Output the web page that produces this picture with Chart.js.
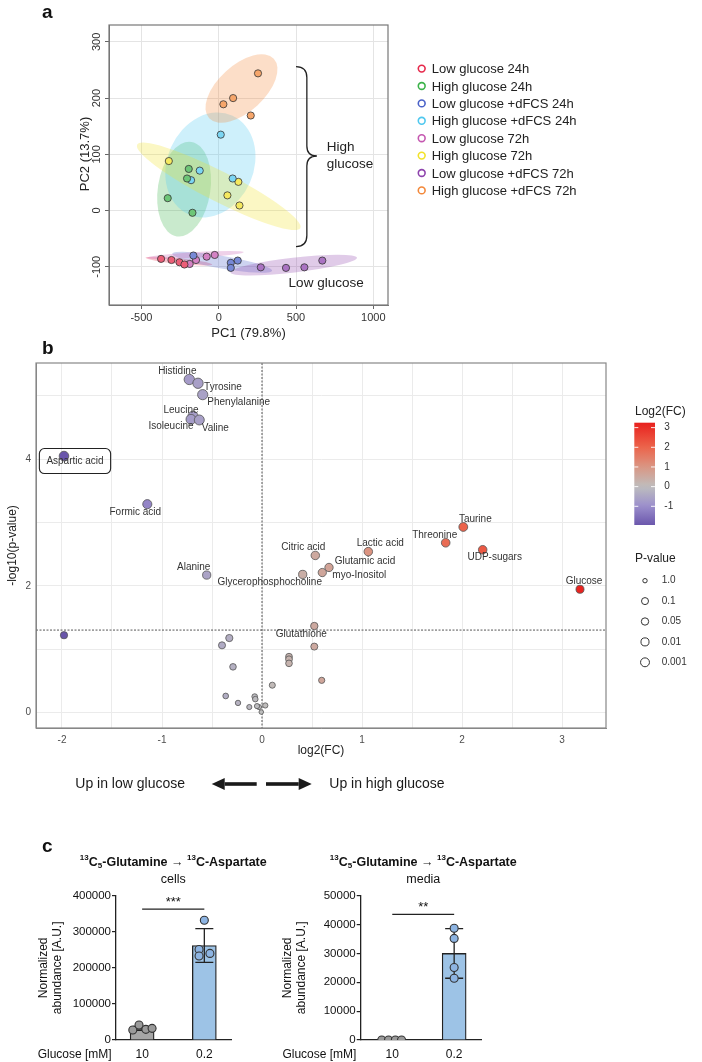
<!DOCTYPE html>
<html>
<head>
<meta charset="utf-8">
<script src="https://cdn.jsdelivr.net/npm/chart.js@4.4.1/dist/chart.umd.min.js"></script>
<style>
  body { margin: 0; background: #fff; }
  #page { position: relative; width: 702px; height: 1062px; overflow: hidden; background: #fff; }
  canvas { position: absolute; }
  .tag { position: absolute; font: bold 19px 'Liberation Sans', Arial, sans-serif; color: #111; }
</style>
</head>
<body>
<div id="page">
  <canvas id="pca" width="702" height="345" style="left:0;top:0"></canvas>
  <canvas id="volcano" width="702" height="460" style="left:0;top:340px"></canvas>
  <canvas id="cells" width="340" height="222" style="left:0;top:840px"></canvas>
  <canvas id="media" width="462" height="222" style="left:240px;top:840px"></canvas>
  <div class="tag" style="left:42px;top:1px">a</div>
  <div class="tag" style="left:42px;top:337px">b</div>
  <div class="tag" style="left:42px;top:835px">c</div>
</div>
<script>
// ---------- panel a : PCA ----------
const pcaGroups = ['Low glucose 24h', 'High glucose 24h', 'Low glucose +dFCS 24h', 'High glucose +dFCS 24h',
                   'Low glucose 72h', 'High glucose 72h', 'Low glucose +dFCS 72h', 'High glucose +dFCS 72h'];
const pc1 = [
  [-373, -306, -254, -222],
  [-194, -205, -330, -170],
  [-164, 78, 78, 123],
  [13, -123, -179, 90],
  [-188, -147, -78, -26],
  [-323, 127, 56, 134],
  [272, 435, 554, 670],
  [254, 93, 30, 207]
];
const pc2 = [
  [-86, -88, -92, -96],
  [74, 57, 22, -4],
  [-80, -93, -102, -89],
  [135, 71, 54, 57],
  [-95, -88, -82, -79],
  [88, 51, 27, 9],
  [-101, -102, -101, -89],
  [244, 200, 189, 169]
];
const pcaXTicks = [-500, 0, 500, 1000];
const pcaYTicks = [-100, 0, 100, 200, 300];
// confidence ellipses: centre, first and second semi-axis vectors (data units)
const ellCentre = [[-258, -90], [-224, 38], [22, -92], [-54, 81], [-151, -79], [0, 43], [485, -97], [147, 217]];
const ellAxisA  = [[216, -6], [47, 84], [323, -15], [140, 88], [312, 5], [528, -74], [409, 13], [209, 53]];
const ellAxisB  = [[0, 5], [168, -7], [-6, -11], [256, -31], [0, 5], [43, 24], [6, -13], [103, -30]];

// ---------- panel b : volcano ----------
const metabolites = ['Histidine', 'Tyrosine', 'Phenylalanine', 'Leucine', 'Isoleucine', 'Valine', 'Aspartic acid',
  'Formic acid', 'Citric acid', 'Alanine', 'Glycerophosphocholine', 'Glutamic acid', 'myo-Inositol', 'Lactic acid',
  'Threonine', 'Taurine', 'UDP-sugars', 'Glucose', 'Glutathione',
  '', '', '', '', '', '', '', '', '', '', '', '', '', '', '', '', '', '', ''];
const log2fc = [-0.727, -0.64, -0.593, -0.69, -0.71, -0.627, -1.98,
  -1.147, 0.533, -0.553, 0.407, 0.67, 0.603, 1.063,
  1.837, 2.013, 2.207, 3.18, 0.523,
  -1.98, -0.327, -0.40, 0.523, 0.27, 0.27, 0.27, -0.29, 0.597, 0.103, -0.363, -0.073, -0.067, -0.24, -0.127, -0.03, 0.033, -0.007, -0.05];
const negLog10p = [5.26, 5.20, 5.02, 4.68, 4.63, 4.62, 4.05,
  3.29, 2.48, 2.17, 2.18, 2.29, 2.21, 2.54,
  2.68, 2.93, 2.57, 1.945, 1.365,
  1.22, 1.175, 1.06, 1.04, 0.88, 0.84, 0.775, 0.72, 0.507, 0.43, 0.26, 0.25, 0.21, 0.15, 0.085, 0.085, 0.11, 0.006, 0.10];
const pThreshold = 1.301;   // -log10(0.05)
const fcThreshold = 0;
const pLegendValues = ['1.0', '0.1', '0.05', '0.01', '0.001'];
const fcLegendTicks = [3, 2, 1, 0, -1];

// ---------- panel c : bars ----------
const glucoseLevels = ['10', '0.2'];
const cellsMean = [32000, 262000];
const cellsSd = [5500, 47000];
const cellsPoints = [[27700, 41500, 29500, 32300], [251000, 233000, 240000, 332000]];
const mediaMean = [0, 30000];
const mediaSd = [0, 8600];
const mediaPoints = [[0, 0, 0, 0], [38700, 35200, 25100, 21400]];
const cellsSig = {level: 363000, text: '***'};
const mediaSig = {level: 43500, text: '**'};

// ---------- styling ----------
const FONT = "'Liberation Sans', Arial, Helvetica, sans-serif";
Chart.defaults.font.family = FONT;
Chart.defaults.color = '#333';
Chart.defaults.animation = false;
Chart.defaults.plugins.legend.display = false;
Chart.defaults.plugins.tooltip.enabled = false;

const ringColors = ['#E6294B', '#3CB34A', '#4A62C8', '#4FC8EF', '#C558B0', '#F2E22A', '#8E44AD', '#F3883A'];
// positional jitter of replicate dots (x units)
const jitterCells = [[-0.15, -0.05, 0.06, 0.16], [-0.085, -0.085, 0.09, 0]];
const jitterMedia = [[-0.17, -0.06, 0.05, 0.15], [0, 0, 0, 0]];
const labelOffset = {
  'Histidine': [-12, -8], 'Tyrosine': [25, 4], 'Phenylalanine': [36, 8], 'Leucine': [-12, -6],
  'Isoleucine': [-20, 7], 'Valine': [16, 8], 'Aspartic acid': [11, 5], 'Formic acid': [-12, 8],
  'Citric acid': [-12, -8], 'Alanine': [-13, -8], 'Glycerophosphocholine': [-33, 8], 'Glutamic acid': [36, -6],
  'myo-Inositol': [37, 3], 'Lactic acid': [12, -8], 'Threonine': [-11, -8], 'Taurine': [12, -8],
  'UDP-sugars': [12, 8], 'Glucose': [4, -8], 'Glutathione': [-13, 8]
};

function hexRgb(h) { return [parseInt(h.substr(1, 2), 16), parseInt(h.substr(3, 2), 16), parseInt(h.substr(5, 2), 16)]; }
function lighten(h, f) { return 'rgb(' + hexRgb(h).map(c => Math.round(c + (255 - c) * f)).join(',') + ')'; }
function alpha(h, a) { return 'rgba(' + hexRgb(h).join(',') + ',' + a + ')'; }

const fcStops = [[-2, [104, 84, 170]], [-1, [155, 142, 204]], [0, [190, 190, 190]], [1, [218, 150, 132]], [2, [236, 100, 75]], [3.3, [232, 30, 28]]];
function fcColor(v) {
  if (v <= fcStops[0][0]) return 'rgb(' + fcStops[0][1].join(',') + ')';
  for (let i = 1; i < fcStops.length; i++) {
    if (v <= fcStops[i][0]) {
      const [a, ca] = fcStops[i - 1], [b, cb] = fcStops[i];
      const t = (v - a) / (b - a);
      return 'rgb(' + ca.map((c, k) => Math.round(c + (cb[k] - c) * t)).join(',') + ')';
    }
  }
  return 'rgb(' + fcStops[fcStops.length - 1][1].join(',') + ')';
}
function sizeFor(p) { return 2.2 + 1.3 * Math.sqrt(Math.max(p, 0)); }

// ---------- panel a plugins ----------
const ellipsePlugin = {
  id: 'ellipses',
  beforeDatasetsDraw(chart) {
    const {ctx, chartArea: ca, scales: {x, y}} = chart;
    ctx.save();
    ctx.beginPath(); ctx.rect(ca.left, ca.top, ca.width, ca.height); ctx.clip();
    ellCentre.forEach((c, i) => {
      const cx = x.getPixelForValue(c[0]), cy = y.getPixelForValue(c[1]);
      const ax = x.getPixelForValue(c[0] + ellAxisA[i][0]) - cx, ay = y.getPixelForValue(c[1] + ellAxisA[i][1]) - cy;
      const bx = x.getPixelForValue(c[0] + ellAxisB[i][0]) - cx, by = y.getPixelForValue(c[1] + ellAxisB[i][1]) - cy;
      ctx.save();
      ctx.transform(ax, ay, bx, by, cx, cy);
      ctx.beginPath(); ctx.arc(0, 0, 1, 0, Math.PI * 2);
      ctx.restore();
      ctx.fillStyle = alpha(ringColors[i], 0.28);
      ctx.fill();
    });
    ctx.restore();
  }
};

const pcaDecor = {
  id: 'pcaDecor',
  afterDraw(chart) {
    const {ctx, chartArea: ca, scales: {x, y}} = chart;
    ctx.save();
    // frame
    ctx.strokeStyle = '#777'; ctx.lineWidth = 1.2;
    ctx.strokeRect(ca.left, ca.top, ca.width, ca.height);
    // rotated y tick labels and y title
    ctx.font = '11px ' + FONT; ctx.fillStyle = '#333'; ctx.textAlign = 'center'; ctx.textBaseline = 'middle';
    y.ticks.forEach(t => {
      ctx.save();
      ctx.translate(ca.left - 11.7, y.getPixelForValue(t.value));
      ctx.rotate(-Math.PI / 2);
      ctx.fillText(String(t.value), 0, 0);
      ctx.restore();
    });
    ctx.save();
    ctx.font = '13px ' + FONT; ctx.fillStyle = '#222';
    ctx.translate(85, 154);
    ctx.rotate(-Math.PI / 2);
    ctx.fillText('PC2 (13.7%)', 0, 0);
    ctx.restore();
    // curly bracket
    const xe = x.getPixelForValue(500), xs = x.getPixelForValue(570), xt = x.getPixelForValue(635);
    const yt = y.getPixelForValue(256), yb = y.getPixelForValue(-64), ym = y.getPixelForValue(97);
    ctx.strokeStyle = '#222'; ctx.lineWidth = 1.3;
    ctx.beginPath();
    ctx.moveTo(xe, yt);
    ctx.quadraticCurveTo(xs, yt, xs, yt + 11);
    ctx.lineTo(xs, ym - 10);
    ctx.quadraticCurveTo(xs, ym, xt, ym);
    ctx.quadraticCurveTo(xs, ym, xs, ym + 10);
    ctx.lineTo(xs, yb - 11);
    ctx.quadraticCurveTo(xs, yb, xe, yb);
    ctx.stroke();
    // annotations
    ctx.font = '13.5px ' + FONT; ctx.fillStyle = '#222'; ctx.textAlign = 'left';
    ctx.fillText('High', x.getPixelForValue(699), y.getPixelForValue(112));
    ctx.fillText('glucose', x.getPixelForValue(699), y.getPixelForValue(83));
    ctx.fillText('Low glucose', x.getPixelForValue(452), y.getPixelForValue(-129));
    // legend
    ctx.font = '13px ' + FONT;
    pcaGroups.forEach((name, g) => {
      const ly = 69.6 + g * 17.4;
      ctx.beginPath(); ctx.arc(421.7, ly - 1, 3.4, 0, Math.PI * 2);
      ctx.strokeStyle = ringColors[g]; ctx.lineWidth = 1.6; ctx.stroke();
      ctx.fillStyle = '#222'; ctx.fillText(name, 431.7, ly);
    });
    ctx.restore();
  }
};

new Chart(document.getElementById('pca'), {
  type: 'scatter',
  data: {
    datasets: pcaGroups.map((name, g) => ({
      label: name,
      data: pc1[g].map((v, i) => ({x: v, y: pc2[g][i]})),
      pointRadius: 3.6,
      pointBackgroundColor: lighten(ringColors[g], 0.25),
      pointBorderColor: '#333',
      pointBorderWidth: 0.8
    }))
  },
  options: {
    responsive: false,
    layout: {padding: {left: 0, top: 25, right: 314, bottom: 0}},
    scales: {
      x: {
        type: 'linear', min: -710, max: 1095,
        afterBuildTicks: s => { s.ticks = pcaXTicks.map(v => ({value: v})); },
        afterFit: s => { s.height = 40; },
        ticks: {padding: 2, color: '#333', font: {size: 11}, callback: v => String(v)},
        grid: {color: '#e4e4e4', tickColor: '#666', tickLength: 4},
        border: {color: '#777'},
        title: {display: true, text: 'PC1 (79.8%)', color: '#222', font: {size: 13}, padding: {top: 0, bottom: 4}}
      },
      y: {
        type: 'linear', min: -168, max: 330,
        afterBuildTicks: s => { s.ticks = pcaYTicks.map(v => ({value: v})); },
        afterFit: s => { s.width = 109; },
        ticks: {display: false},
        grid: {color: '#e4e4e4', tickColor: '#666', tickLength: 4},
        border: {color: '#777'}
      }
    }
  },
  plugins: [ellipsePlugin, pcaDecor]
});

// ---------- panel b ----------
function drawArrow(ctx, x0, x1, y) {
  const dir = Math.sign(x1 - x0), head = 13;
  ctx.fillRect(Math.min(x0, x1 - dir * head), y - 1.8, Math.abs(x1 - dir * head - x0), 3.6);
  ctx.beginPath();
  ctx.moveTo(x1, y); ctx.lineTo(x1 - dir * head, y - 6); ctx.lineTo(x1 - dir * head, y + 6);
  ctx.closePath(); ctx.fill();
}

const volcanoDecor = {
  id: 'volcanoDecor',
  beforeDatasetsDraw(chart) {
    const {ctx, chartArea: ca, scales: {x, y}} = chart;
    ctx.save();
    ctx.strokeStyle = '#555'; ctx.lineWidth = 1; ctx.setLineDash([2, 1.5]);
    const px = x.getPixelForValue(fcThreshold), py = y.getPixelForValue(pThreshold);
    ctx.beginPath(); ctx.moveTo(px, ca.top); ctx.lineTo(px, ca.bottom); ctx.stroke();
    ctx.beginPath(); ctx.moveTo(ca.left, py); ctx.lineTo(ca.right, py); ctx.stroke();
    ctx.restore();
  },
  afterDraw(chart) {
    const {ctx, chartArea: ca, scales: {x, y}} = chart;
    ctx.save();
    ctx.strokeStyle = '#888'; ctx.lineWidth = 1.2;
    ctx.strokeRect(ca.left, ca.top, ca.width, ca.height);
    // point labels
    ctx.font = '10px ' + FONT; ctx.fillStyle = '#333'; ctx.textAlign = 'center'; ctx.textBaseline = 'middle';
    metabolites.forEach((name, i) => {
      if (!name) return;
      const off = labelOffset[name];
      const tx = x.getPixelForValue(log2fc[i]) + off[0], ty = y.getPixelForValue(negLog10p[i]) + off[1];
      if (name === 'Aspartic acid') {
        const w = ctx.measureText(name).width + 14, h = 25;
        ctx.beginPath(); ctx.roundRect(tx - w / 2, ty - h / 2, w, h, 5);
        ctx.strokeStyle = '#222'; ctx.lineWidth = 1.1; ctx.stroke();
      }
      ctx.fillText(name, tx, ty);
    });
    // colour bar legend
    const barL = 634.3, barR = 655, barT = 82.7, barB = 185;   // canvas coords
    const vTop = 3.25, vBot = -1.95;
    const vy = v => barT + (vTop - v) / (vTop - vBot) * (barB - barT);
    const grad = ctx.createLinearGradient(0, barB, 0, barT);
    for (let k = 0; k <= 20; k++) {
      const v = vBot + (vTop - vBot) * k / 20;
      grad.addColorStop(k / 20, fcColor(v));
    }
    ctx.fillStyle = grad; ctx.fillRect(barL, barT, barR - barL, barB - barT);
    ctx.strokeStyle = 'rgba(255,255,255,0.9)'; ctx.lineWidth = 1;
    ctx.font = '10px ' + FONT; ctx.textAlign = 'left'; ctx.textBaseline = 'middle';
    fcLegendTicks.forEach(v => {
      const ty = vy(v);
      ctx.beginPath(); ctx.moveTo(barL, ty); ctx.lineTo(barL + 4, ty); ctx.moveTo(barR - 4, ty); ctx.lineTo(barR, ty); ctx.stroke();
      ctx.fillStyle = '#333'; ctx.fillText(String(v), 664.3, ty);
    });
    ctx.font = '12px ' + FONT; ctx.fillStyle = '#222';
    ctx.fillText('Log2(FC)', 635, 71.7);
    // p-value legend
    ctx.fillText('P-value', 635, 218.3);
    ctx.font = '10px ' + FONT;
    pLegendValues.forEach((lab, k) => {
      const ly = 240.7 + k * 20.4;
      ctx.beginPath(); ctx.arc(645, ly, sizeFor(-Math.log10(parseFloat(lab))), 0, Math.PI * 2);
      ctx.strokeStyle = '#333'; ctx.lineWidth = 1; ctx.stroke();
      ctx.fillStyle = '#333'; ctx.fillText(lab, 661.7, ly);
    });
    // direction arrows
    ctx.fillStyle = '#1a1a1a';
    ctx.font = '14px ' + FONT; ctx.textAlign = 'right';
    ctx.fillText('Up in low glucose', 185, 444);
    ctx.textAlign = 'left';
    ctx.fillText('Up in high glucose', 329.3, 444);
    drawArrow(ctx, 256.7, 211.7, 444);
    drawArrow(ctx, 266, 311.7, 444);
    ctx.restore();
  }
};

new Chart(document.getElementById('volcano'), {
  type: 'scatter',
  data: {
    datasets: [{
      label: 'metabolites',
      data: log2fc.map((v, i) => ({x: v, y: negLog10p[i]})),
      pointRadius: negLog10p.map(sizeFor),
      pointBackgroundColor: log2fc.map(fcColor),
      pointBorderColor: '#555',
      pointBorderWidth: 0.8
    }]
  },
  options: {
    responsive: false,
    layout: {padding: {left: 0, top: 23, right: 96, bottom: 40}},
    scales: {
      x: {
        type: 'linear', min: -2.26, max: 3.44,
        afterFit: s => { s.height = 32; },
        ticks: {stepSize: 0.5, includeBounds: false, padding: 6, color: '#4d4d4d', font: {size: 10},
                callback: v => Math.abs(v - Math.round(v)) < 1e-6 ? String(Math.round(v)) : ''},
        grid: {color: '#ebebeb', drawTicks: false},
        border: {color: '#888'},
        title: {display: true, text: 'log2(FC)', color: '#222', font: {size: 12}, padding: {top: 0, bottom: 2}}
      },
      y: {
        type: 'linear', min: -0.246, max: 5.52,
        afterFit: s => { s.width = 36; },
        ticks: {stepSize: 1, includeBounds: false, padding: 5, color: '#4d4d4d', font: {size: 10},
                callback: v => Math.abs(v % 2) < 1e-6 ? String(Math.round(v)) : ''},
        grid: {color: '#ebebeb', drawTicks: false},
        border: {color: '#888'},
        title: {display: true, text: '-log10(p-value)', color: '#222', font: {size: 12}, padding: {top: 5, bottom: 0}}
      }
    }
  },
  plugins: [volcanoDecor]
});

// ---------- panel c ----------
function richTitle(ctx, cx, y) {
  const parts = [['13', 'sup'], ['C', 'n'], ['5', 'sub'], ['-Glutamine \u2192 ', 'n'], ['13', 'sup'], ['C-Aspartate', 'n']];
  const fontFor = k => (k === 'n' ? 'bold 12.5px ' : 'bold 8px ') + FONT;
  let total = 0;
  parts.forEach(([t, k]) => { ctx.font = fontFor(k); total += ctx.measureText(t).width; });
  let x = cx - total / 2;
  ctx.textAlign = 'left'; ctx.textBaseline = 'middle'; ctx.fillStyle = '#111';
  parts.forEach(([t, k]) => {
    ctx.font = fontFor(k);
    ctx.fillText(t, x, y + (k === 'sup' ? -4.5 : k === 'sub' ? 3.5 : 0));
    x += ctx.measureText(t).width;
  });
}

function barDecor(mean, sd, sig, subtitle, titleX) {
  return {
    id: 'barDecor',
    afterDatasetDraw(chart, args) {
      if (args.index !== 0) return;
      const {ctx, scales: {x, y}} = chart;
      ctx.save();
      ctx.strokeStyle = '#222'; ctx.lineWidth = 1.3;
      mean.forEach((m, i) => {
        if (!sd[i]) return;
        const px = x.getPixelForValue(i), lo = y.getPixelForValue(m - sd[i]), hi = y.getPixelForValue(m + sd[i]);
        ctx.beginPath();
        ctx.moveTo(px, lo); ctx.lineTo(px, hi);
        ctx.moveTo(px - 9, hi); ctx.lineTo(px + 9, hi);
        ctx.moveTo(px - 9, lo); ctx.lineTo(px + 9, lo);
        ctx.stroke();
      });
      ctx.restore();
    },
    afterDraw(chart) {
      const {ctx, chartArea: ca, scales: {x, y}} = chart;
      ctx.save();
      richTitle(ctx, titleX, 22.7);
      ctx.font = '12.5px ' + FONT; ctx.textAlign = 'center'; ctx.fillStyle = '#111';
      ctx.fillText(subtitle, titleX, 40);
      // significance
      const sy = y.getPixelForValue(sig.level);
      ctx.strokeStyle = '#222'; ctx.lineWidth = 1.2;
      ctx.beginPath(); ctx.moveTo(x.getPixelForValue(0), sy); ctx.lineTo(x.getPixelForValue(1), sy); ctx.stroke();
      ctx.font = '13px ' + FONT;
      ctx.fillText(sig.text, (x.getPixelForValue(0) + x.getPixelForValue(1)) / 2, sy - 7);
      // x category caption
      ctx.font = '12px ' + FONT; ctx.textAlign = 'right'; ctx.textBaseline = 'middle';
      ctx.fillText('Glucose [mM]', ca.left - 4.3, 215);
      ctx.restore();
    }
  };
}

function barChart(id, opts) {
  const barFill = ['#a6a6a6', '#9dc3e6'];
  const dotFill = ['#9a9a9a', '#8db4e2'];
  const dots = [];
  opts.points.forEach((grp, i) => grp.forEach((v, j) => dots.push({x: i + opts.jitter[i][j], y: v, c: dotFill[i]})));
  return new Chart(document.getElementById(id), {
    type: 'bar',
    data: {
      datasets: [
        {
          type: 'bar', order: 2,
          data: opts.mean.map((m, i) => ({x: i, y: m})),
          backgroundColor: barFill, borderColor: '#222', borderWidth: 1.3, barThickness: 24
        },
        {
          type: 'scatter', order: 1,
          data: dots.map(d => ({x: d.x, y: d.y})),
          pointRadius: 4, pointBackgroundColor: dots.map(d => d.c), pointBorderColor: '#333', pointBorderWidth: 1.1
        }
      ]
    },
    options: {
      responsive: false,
      layout: {padding: {left: 0, top: 55.7, right: opts.padRight, bottom: 0}},
      scales: {
        x: {
          type: 'linear', offset: false, min: opts.xMin, max: opts.xMax,
          afterFit: s => { s.height = 22; },
          ticks: {stepSize: 1, includeBounds: false, padding: 7, color: '#111', font: {size: 12},
                  callback: v => glucoseLevels[Math.round(v)]},
          grid: {display: false, drawTicks: false},
          border: {color: '#222', width: 1.3}
        },
        y: {
          type: 'linear', min: 0, max: opts.yMax,
          afterFit: s => { s.width = opts.axisWidth; },
          ticks: {stepSize: opts.yStep, padding: 1, color: '#111', font: {size: 11.5}, callback: v => String(v)},
          grid: {drawOnChartArea: false, tickLength: 4, tickColor: '#222', lineWidth: 1.2},
          border: {color: '#222', width: 1.3},
          title: {display: true, text: ['Normalized', 'abundance [A.U.]'], color: '#111', font: {size: 12},
                  padding: {top: opts.titlePad, bottom: 0}}
        }
      }
    },
    plugins: [barDecor(opts.mean, opts.sd, opts.sig, opts.subtitle, opts.titleX)]
  });
}

barChart('cells', {
  mean: cellsMean, sd: cellsSd, points: cellsPoints, jitter: jitterCells, sig: cellsSig,
  subtitle: 'cells', titleX: 173.3, xMin: -0.42, xMax: 1.44, yMax: 400000, yStep: 100000,
  axisWidth: 116, padRight: 108.3, titlePad: 36
});
barChart('media', {
  mean: mediaMean, sd: mediaSd, points: mediaPoints, jitter: jitterMedia, sig: mediaSig,
  subtitle: 'media', titleX: 183.3, xMin: -0.51, xMax: 1.445, yMax: 50000, yStep: 10000,
  axisWidth: 120.7, padRight: 220.3, titlePad: 40.5
});
</script>
</body>
</html>
